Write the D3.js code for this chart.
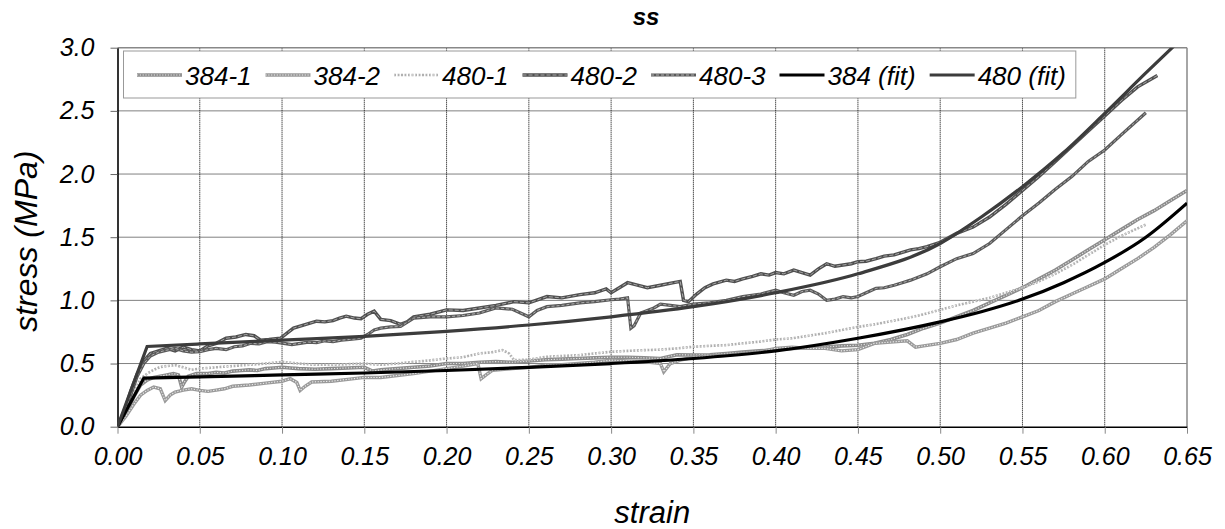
<!DOCTYPE html>
<html><head><meta charset="utf-8">
<script src="https://cdn.jsdelivr.net/npm/d3@7"></script>
<style>
html,body{margin:0;padding:0;background:#fff;}
svg{display:block;font-family:"Liberation Sans",Arial,sans-serif;}
</style></head>
<body><svg id="chart" width="1225" height="529"></svg>
<script>
// ---------- data ----------
const xTicks = [0,0.05,0.10,0.15,0.20,0.25,0.30,0.35,0.40,0.45,0.50,0.55,0.60,0.65];
const yTicks = [0,0.5,1.0,1.5,2.0,2.5,3.0];
const seriesNames = ["384-1","384-2","480-1","480-2","480-3","384 (fit)","480 (fit)"];

const s384_1 = [[0,0],[0.005,0.1],[0.01,0.24],[0.014,0.33],[0.018,0.37],[0.022,0.39],[0.026,0.40],[0.03,0.41],[0.034,0.42],[0.037,0.41],[0.039,0.314],[0.041,0.36],[0.043,0.40],[0.048,0.42],[0.055,0.42],[0.06,0.43],[0.065,0.425],[0.07,0.44],[0.075,0.445],[0.08,0.45],[0.085,0.445],[0.09,0.46],[0.095,0.465],[0.10,0.47],[0.105,0.465],[0.11,0.46],[0.12,0.455],[0.13,0.46],[0.14,0.465],[0.15,0.47],[0.155,0.44],[0.16,0.45],[0.17,0.46],[0.18,0.47],[0.19,0.48],[0.20,0.50],[0.21,0.50],[0.22,0.51],[0.23,0.515],[0.24,0.51],[0.25,0.52],[0.26,0.53],[0.27,0.535],[0.28,0.54],[0.29,0.545],[0.30,0.55],[0.31,0.55],[0.32,0.545],[0.33,0.54],[0.34,0.57],[0.35,0.567],[0.36,0.57],[0.37,0.58],[0.38,0.59],[0.39,0.60],[0.40,0.61],[0.41,0.62],[0.42,0.625],[0.43,0.63],[0.44,0.64],[0.45,0.645],[0.46,0.66],[0.47,0.69],[0.48,0.73],[0.49,0.78],[0.50,0.82],[0.51,0.87],[0.52,0.92],[0.53,0.98],[0.54,1.04],[0.55,1.10],[0.56,1.17],[0.57,1.24],[0.58,1.32],[0.59,1.40],[0.60,1.48],[0.61,1.56],[0.62,1.64],[0.63,1.71],[0.64,1.79],[0.65,1.87]];

const s384_2 = [[0,0],[0.005,0.08],[0.01,0.18],[0.014,0.25],[0.018,0.287],[0.022,0.314],[0.026,0.30],[0.029,0.207],[0.032,0.25],[0.035,0.274],[0.04,0.29],[0.045,0.30],[0.05,0.287],[0.055,0.28],[0.06,0.29],[0.065,0.30],[0.07,0.32],[0.08,0.33],[0.09,0.345],[0.10,0.36],[0.105,0.38],[0.109,0.35],[0.111,0.287],[0.114,0.32],[0.118,0.354],[0.13,0.36],[0.14,0.375],[0.15,0.39],[0.16,0.39],[0.17,0.405],[0.18,0.42],[0.19,0.44],[0.20,0.46],[0.21,0.48],[0.219,0.50],[0.221,0.38],[0.224,0.41],[0.228,0.447],[0.24,0.46],[0.25,0.47],[0.26,0.487],[0.27,0.49],[0.28,0.50],[0.29,0.51],[0.30,0.527],[0.31,0.52],[0.32,0.515],[0.33,0.50],[0.332,0.434],[0.336,0.50],[0.342,0.527],[0.35,0.55],[0.36,0.56],[0.37,0.565],[0.38,0.58],[0.39,0.59],[0.40,0.62],[0.41,0.63],[0.42,0.62],[0.43,0.62],[0.44,0.60],[0.45,0.61],[0.46,0.66],[0.47,0.67],[0.48,0.68],[0.485,0.63],[0.49,0.64],[0.50,0.66],[0.51,0.69],[0.52,0.74],[0.53,0.78],[0.54,0.82],[0.55,0.87],[0.56,0.92],[0.57,0.99],[0.58,1.05],[0.59,1.11],[0.60,1.17],[0.61,1.25],[0.62,1.33],[0.63,1.42],[0.64,1.52],[0.65,1.63]];

const s480_1 = [[0,0],[0.005,0.12],[0.01,0.27],[0.014,0.38],[0.018,0.42],[0.022,0.45],[0.026,0.473],[0.03,0.48],[0.035,0.487],[0.04,0.47],[0.045,0.45],[0.05,0.46],[0.06,0.47],[0.07,0.48],[0.08,0.49],[0.09,0.50],[0.10,0.513],[0.11,0.50],[0.12,0.49],[0.13,0.49],[0.14,0.495],[0.15,0.50],[0.16,0.49],[0.17,0.50],[0.18,0.513],[0.19,0.525],[0.20,0.54],[0.21,0.55],[0.22,0.58],[0.228,0.59],[0.234,0.606],[0.238,0.58],[0.241,0.527],[0.25,0.53],[0.26,0.553],[0.27,0.56],[0.28,0.566],[0.29,0.58],[0.30,0.593],[0.31,0.60],[0.32,0.606],[0.33,0.61],[0.34,0.62],[0.35,0.633],[0.36,0.64],[0.37,0.646],[0.38,0.66],[0.39,0.673],[0.40,0.69],[0.41,0.70],[0.42,0.72],[0.43,0.74],[0.44,0.765],[0.45,0.79],[0.46,0.81],[0.47,0.835],[0.48,0.86],[0.49,0.89],[0.50,0.925],[0.51,0.96],[0.52,0.99],[0.53,1.02],[0.54,1.06],[0.55,1.10],[0.56,1.15],[0.57,1.21],[0.58,1.28],[0.59,1.36],[0.60,1.44],[0.61,1.51],[0.625,1.60]];

const s480_2 = [[0,0],[0.004,0.12],[0.008,0.28],[0.012,0.42],[0.016,0.52],[0.02,0.58],[0.025,0.60],[0.03,0.62],[0.035,0.60],[0.04,0.63],[0.045,0.61],[0.05,0.60],[0.055,0.64],[0.06,0.66],[0.066,0.70],[0.072,0.71],[0.078,0.73],[0.083,0.72],[0.087,0.685],[0.092,0.69],[0.099,0.70],[0.104,0.75],[0.107,0.78],[0.112,0.80],[0.117,0.82],[0.121,0.835],[0.126,0.83],[0.131,0.84],[0.135,0.86],[0.139,0.875],[0.144,0.86],[0.148,0.855],[0.152,0.89],[0.156,0.915],[0.16,0.85],[0.166,0.84],[0.172,0.81],[0.176,0.83],[0.18,0.87],[0.19,0.89],[0.20,0.925],[0.21,0.92],[0.22,0.94],[0.23,0.96],[0.241,0.99],[0.25,0.98],[0.261,1.03],[0.27,1.02],[0.281,1.045],[0.29,1.06],[0.297,1.09],[0.30,1.06],[0.305,1.10],[0.31,1.14],[0.316,1.12],[0.322,1.10],[0.33,1.12],[0.338,1.14],[0.342,1.15],[0.344,1.0],[0.347,0.99],[0.352,1.05],[0.357,1.10],[0.362,1.13],[0.37,1.16],[0.375,1.15],[0.38,1.17],[0.386,1.19],[0.391,1.21],[0.396,1.20],[0.40,1.22],[0.405,1.21],[0.411,1.24],[0.416,1.22],[0.421,1.20],[0.426,1.25],[0.431,1.29],[0.436,1.27],[0.441,1.28],[0.446,1.29],[0.45,1.306],[0.455,1.31],[0.461,1.33],[0.466,1.35],[0.472,1.36],[0.477,1.38],[0.482,1.40],[0.487,1.41],[0.492,1.425],[0.50,1.46],[0.51,1.53],[0.52,1.58],[0.53,1.66],[0.54,1.76],[0.55,1.87],[0.56,1.98],[0.57,2.10],[0.58,2.22],[0.59,2.34],[0.60,2.46],[0.61,2.58],[0.62,2.69],[0.632,2.78]];

const s480_3 = [[0,0],[0.004,0.10],[0.008,0.25],[0.012,0.40],[0.016,0.50],[0.02,0.56],[0.025,0.59],[0.03,0.606],[0.035,0.62],[0.04,0.60],[0.045,0.59],[0.05,0.593],[0.055,0.61],[0.06,0.62],[0.066,0.61],[0.071,0.633],[0.076,0.64],[0.081,0.66],[0.086,0.655],[0.091,0.673],[0.096,0.67],[0.101,0.66],[0.106,0.65],[0.111,0.66],[0.116,0.67],[0.121,0.665],[0.126,0.68],[0.131,0.673],[0.136,0.685],[0.141,0.69],[0.148,0.70],[0.152,0.73],[0.156,0.766],[0.16,0.78],[0.166,0.79],[0.172,0.793],[0.18,0.86],[0.19,0.87],[0.20,0.87],[0.21,0.88],[0.22,0.90],[0.23,0.94],[0.24,0.93],[0.25,0.87],[0.255,0.92],[0.261,0.95],[0.27,0.96],[0.281,0.98],[0.29,0.99],[0.30,1.005],[0.305,1.01],[0.31,1.02],[0.312,0.78],[0.314,0.80],[0.318,0.90],[0.326,0.94],[0.33,0.97],[0.336,0.96],[0.342,0.95],[0.35,0.97],[0.36,0.98],[0.37,1.0],[0.38,1.03],[0.391,1.05],[0.40,1.08],[0.405,1.06],[0.411,1.04],[0.416,1.07],[0.421,1.08],[0.426,1.05],[0.431,1.0],[0.436,1.01],[0.441,1.03],[0.446,1.02],[0.45,1.03],[0.455,1.06],[0.461,1.095],[0.466,1.10],[0.472,1.12],[0.477,1.14],[0.482,1.16],[0.492,1.21],[0.50,1.266],[0.51,1.33],[0.52,1.37],[0.53,1.45],[0.54,1.56],[0.55,1.67],[0.56,1.77],[0.57,1.88],[0.58,1.98],[0.59,2.10],[0.60,2.19],[0.61,2.31],[0.625,2.485]];

const fit384 = [[0,0],[0.016,0.385],[0.05,0.395],[0.10,0.41],[0.15,0.425],[0.20,0.445],[0.25,0.47],[0.30,0.50],[0.35,0.54],[0.40,0.60],[0.45,0.70],[0.50,0.83],[0.525,0.91],[0.55,1.01],[0.575,1.14],[0.60,1.30],[0.625,1.50],[0.65,1.77]];
const fit480 = [[0,0],[0.018,0.635],[0.05,0.655],[0.10,0.685],[0.15,0.715],[0.20,0.755],[0.25,0.805],[0.30,0.87],[0.35,0.95],[0.40,1.06],[0.45,1.21],[0.50,1.45],[0.525,1.66],[0.55,1.90],[0.575,2.17],[0.60,2.48],[0.625,2.80],[0.645,3.05]];

// ---------- layout ----------
const svg = d3.select("#chart");
const L = 117.5, R = 1187, T = 47.7, B = 426.7;
const x = d3.scaleLinear().domain([0,0.65]).range([L,R]);
const y = d3.scaleLinear().domain([0,3]).range([B,T]);

svg.append("defs").append("clipPath").attr("id","clip")
  .append("rect").attr("x",L).attr("y",T).attr("width",R-L).attr("height",B-T);

// gridlines
const grid = svg.append("g");
grid.selectAll("line.h").data(yTicks.filter(v=>v>0 && v<3)).join("line")
  .attr("x1",L).attr("x2",R).attr("y1",d=>y(d)).attr("y2",d=>y(d))
  .attr("stroke","#000").attr("stroke-width",1).attr("stroke-dasharray","1,1");
grid.selectAll("line.v").data(xTicks.filter(v=>v>0 && v<0.65)).join("line")
  .attr("x1",d=>x(d)).attr("x2",d=>x(d)).attr("y1",T).attr("y2",B)
  .attr("stroke","#000").attr("stroke-width",1).attr("stroke-dasharray","1,1");

// plot border top/right
svg.append("line").attr("x1",L).attr("x2",R).attr("y1",T).attr("y2",T).attr("stroke","#888").attr("stroke-width",1.5);
svg.append("line").attr("x1",R).attr("x2",R).attr("y1",T).attr("y2",B).attr("stroke","#888").attr("stroke-width",1.5);

// axes
const fmtX = d3.format(".2f"), fmtY = d3.format(".1f");
const xAxis = svg.append("g").attr("transform",`translate(0,${B})`)
  .call(d3.axisBottom(x).tickValues(xTicks).tickFormat(fmtX).tickSize(7).tickPadding(14).tickSizeOuter(0));
const yAxis = svg.append("g").attr("transform",`translate(${L},0)`)
  .call(d3.axisLeft(y).tickValues(yTicks).tickFormat(fmtY).tickSize(7).tickPadding(16).tickSizeOuter(0));
[xAxis,yAxis].forEach(a=>{
  a.select(".domain").attr("stroke","#000").attr("stroke-width",1.6);
  a.selectAll(".tick line").attr("stroke","#666");
  a.selectAll(".tick text").attr("font-size",25).attr("font-style","italic").attr("fill","#000")
    .attr("font-family","'Liberation Sans',Arial,sans-serif");
});
xAxis.selectAll(".tick line").attr("stroke","#888");

// series styles
const styles = {
  "384-1":[{stroke:"#8c8c8c",w:3.6},{stroke:"#e6e6e6",w:1.1,dash:"1.2,1.6"}],
  "384-2":[{stroke:"#9a9a9a",w:3.4},{stroke:"#f0f0f0",w:1.1,dash:"1.2,1.6"}],
  "480-1":[{stroke:"#b0b0b0",w:2.6,dash:"2,1.5"},{stroke:"#f4f4f4",w:0.8,dash:"1,2"}],
  "480-2":[{stroke:"#505050",w:3.4},{stroke:"#a8a8a8",w:1,dash:"4,2"}],
  "480-3":[{stroke:"#5a5a5a",w:3.2},{stroke:"#b0b0b0",w:1,dash:"3,2"}],
  "384 (fit)":[{stroke:"#000",w:3.2}],
  "480 (fit)":[{stroke:"#3c3c3c",w:3.2}]
};
const seriesData = [s384_1,s384_2,s480_1,s480_2,s480_3,fit384,fit480];

const lineLin = d3.line().x(d=>x(d[0])).y(d=>y(d[1]));
const lineSmooth = d3.line().x(d=>x(d[0])).y(d=>y(d[1])).curve(d3.curveMonotoneX);
// fit: straight elastic segment, then smooth plateau/hardening part (sharp corner kept)
const fitPath = data => lineLin(data.slice(0,2)) + lineSmooth(data.slice(1)).replace(/^M/,"L");

const plot = svg.append("g").attr("clip-path","url(#clip)");
seriesNames.forEach((name,i)=>{
  const isFit = name.includes("fit");
  styles[name].forEach(st=>{
    plot.append("path").datum(seriesData[i]).attr("d",isFit ? fitPath : lineLin)
      .attr("fill","none").attr("stroke",st.stroke).attr("stroke-width",st.w)
      .attr("stroke-linejoin","miter").attr("stroke-linecap","butt")
      .attr("stroke-dasharray",st.dash||null);
  });
});

// legend
const lg = svg.append("g");
const lgBox = lg.append("rect").attr("x",123.5).attr("y",51).attr("height",47)
  .attr("fill","#fff").attr("stroke","#999").attr("stroke-width",1);
let cx = 137;
seriesNames.forEach(name=>{
  styles[name].forEach(st=>{
    lg.append("line").attr("x1",cx).attr("x2",cx+45).attr("y1",75).attr("y2",75)
      .attr("stroke",st.stroke).attr("stroke-width",st.w).attr("stroke-dasharray",st.dash||null);
  });
  const t = lg.append("text").attr("x",cx+48).attr("y",84.5).attr("font-size",26)
    .attr("font-style","italic").attr("fill","#000").text(name);
  cx = cx + 48 + t.node().getComputedTextLength() + 14;
});
lgBox.attr("width", cx - 14 + 10 - 123.5);

// titles
svg.append("text").attr("x",646).attr("y",25).attr("text-anchor","middle")
  .attr("font-size",24).attr("font-weight","bold").attr("font-style","italic").text("ss");
svg.append("text").attr("x",(L+R)/2).attr("y",523).attr("text-anchor","middle")
  .attr("font-size",31).attr("font-style","italic").text("strain");
svg.append("text").attr("transform",`translate(37,${(T+B)/2 + 4}) rotate(-90)`).attr("text-anchor","middle")
  .attr("font-size",32).attr("font-style","italic").text("stress (MPa)");
</script></body></html>
